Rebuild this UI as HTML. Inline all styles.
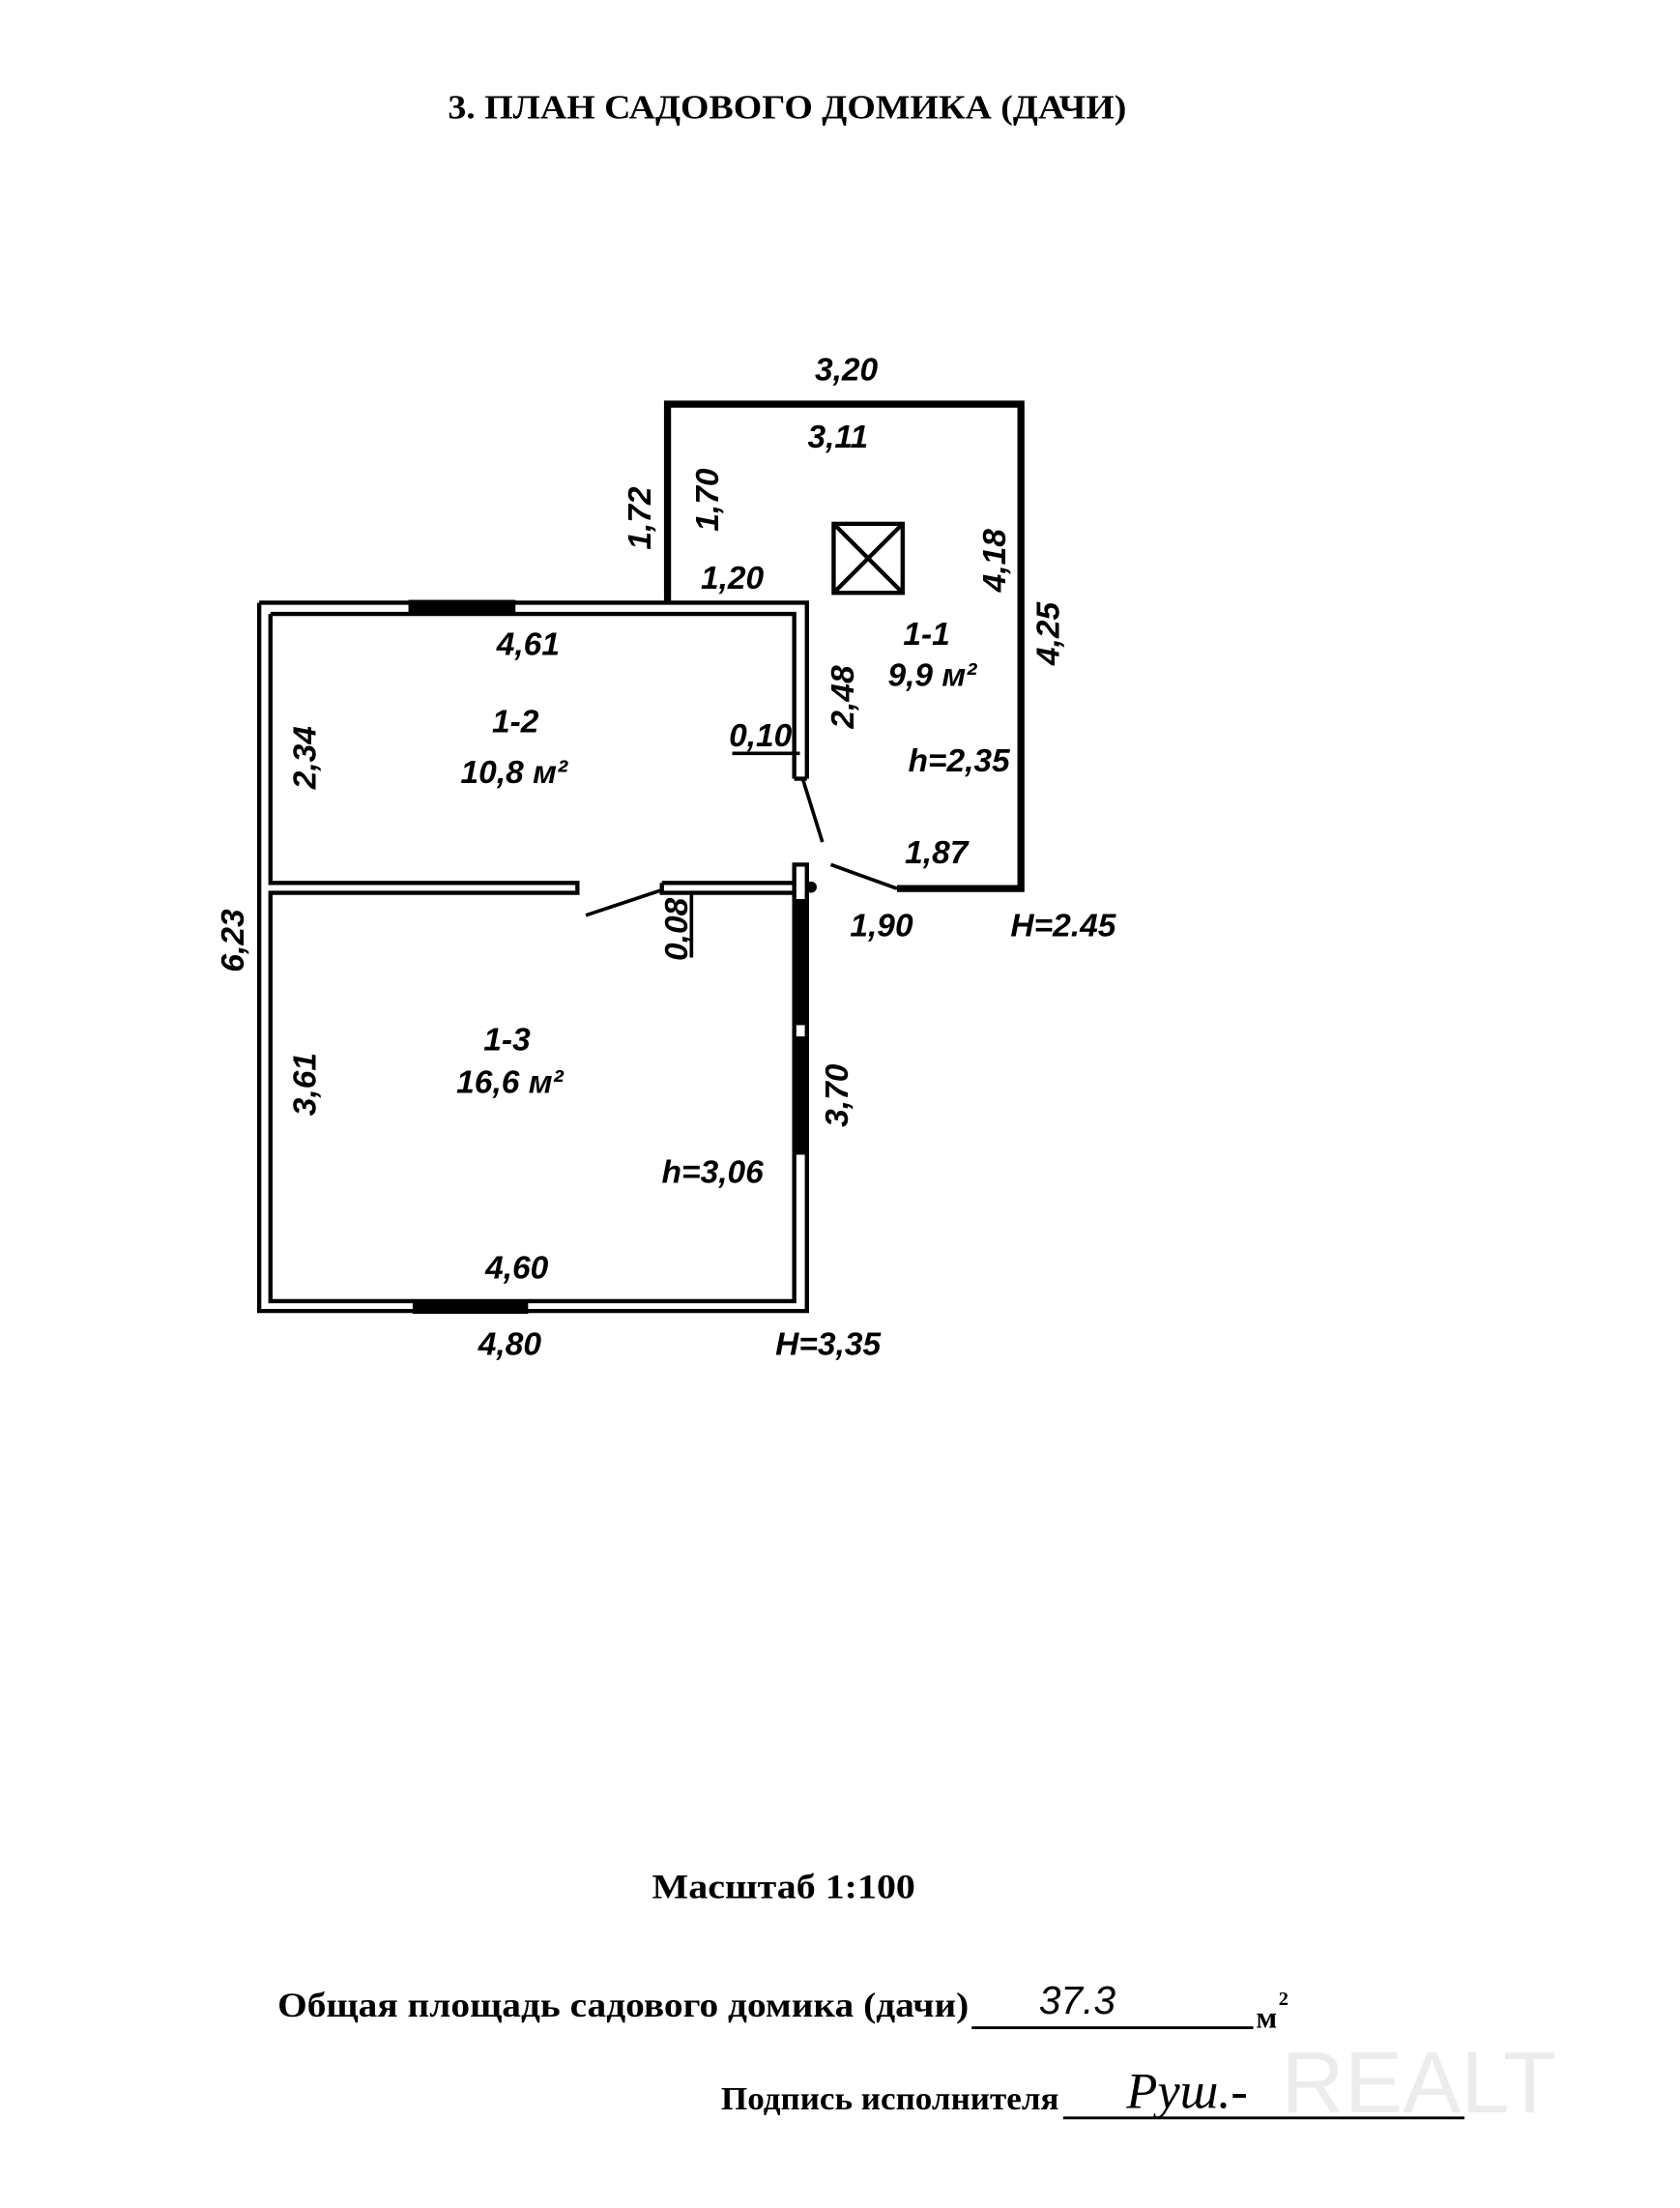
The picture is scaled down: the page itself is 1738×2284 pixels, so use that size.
<!DOCTYPE html>
<html><head><meta charset="utf-8"><style>
html,body{margin:0;padding:0;background:#fff}
svg{display:block}
.d{font-family:"Liberation Sans",sans-serif;font-style:italic;font-weight:bold;font-size:23px;fill:#000}
.s{font-family:"Liberation Serif","Noto Serif CJK SC",serif;font-weight:bold;fill:#000}
</style></head><body>
<svg width="1738" height="2284" viewBox="0 0 1193 1568" xmlns="http://www.w3.org/2000/svg">
<rect width="1193" height="1568" fill="#fff"/>
<text class="s" x="318" y="84" font-size="24" textLength="482" lengthAdjust="spacingAndGlyphs">3. ПЛАН САДОВОГО ДОМИКА (ДАЧИ)</text>

<g fill="none" stroke="#000" stroke-width="3">
<path d="M184,428 H573 V553 M184,428 V931 H573 V634"/>
<path d="M192,436 H564 V553 M192,436 V627 H410 V634 H192 V924 H564 V640"/>
<path d="M564,553 H573"/>
<path d="M470,627 H564 M476,634 H564 M470,627 V634 H476"/>
<path d="M564,614 H573 V640 H564 Z"/>
</g>
<rect x="290" y="426" width="76" height="10" fill="#000"/>
<rect x="293" y="923" width="82" height="10" fill="#000"/>
<rect x="563" y="640" width="10" height="88" fill="#000"/>
<rect x="563" y="736" width="10" height="84" fill="#000"/>
<circle cx="576" cy="630" r="4" fill="#000"/>
<g fill="none" stroke="#000" stroke-width="5">
<path d="M474,428 V287 H725 V631 H637"/>
</g>
<g stroke="#000" stroke-width="2.5">
<line x1="570" y1="553" x2="584" y2="598"/>
<line x1="590" y1="614" x2="637" y2="631"/>
<line x1="416" y1="650" x2="470" y2="632"/>
<line x1="520" y1="535" x2="568" y2="535"/>
<line x1="491" y1="633" x2="491" y2="680"/>
</g>
<g fill="none" stroke="#000" stroke-width="3">
<rect x="592" y="372" width="49" height="49"/>
<line x1="592" y1="372" x2="641" y2="421"/><line x1="641" y1="372" x2="592" y2="421"/>
</g>

<g class="d">
<text x="601" y="270" text-anchor="middle">3,20</text>
<text x="595" y="318" text-anchor="middle">3,11</text>
<text x="520" y="418" text-anchor="middle">1,20</text>
<text x="375" y="465" text-anchor="middle">4,61</text>
<text x="366" y="520" text-anchor="middle">1-2</text>
<text x="365" y="556" text-anchor="middle">10,8 м²</text>
<text x="540" y="530" text-anchor="middle">0,10</text>
<text x="658" y="458" text-anchor="middle">1-1</text>
<text x="662" y="487" text-anchor="middle">9,9 м²</text>
<text x="681" y="548" text-anchor="middle">h=2,35</text>
<text x="665" y="613" text-anchor="middle">1,87</text>
<text x="626" y="665" text-anchor="middle">1,90</text>
<text x="755" y="665" text-anchor="middle">H=2.45</text>
<text x="360" y="746" text-anchor="middle">1-3</text>
<text x="362" y="776" text-anchor="middle">16,6 м²</text>
<text x="506" y="840" text-anchor="middle">h=3,06</text>
<text x="367" y="908" text-anchor="middle">4,60</text>
<text x="362" y="962" text-anchor="middle">4,80</text>
<text x="588" y="962" text-anchor="middle">H=3,35</text>
<text transform="translate(462,368) rotate(-90)" text-anchor="middle">1,72</text>
<text transform="translate(510,355) rotate(-90)" text-anchor="middle">1,70</text>
<text transform="translate(714,398) rotate(-90)" text-anchor="middle">4,18</text>
<text transform="translate(752,450) rotate(-90)" text-anchor="middle">4,25</text>
<text transform="translate(606,495) rotate(-90)" text-anchor="middle">2,48</text>
<text transform="translate(224,538) rotate(-90)" text-anchor="middle">2,34</text>
<text transform="translate(173,668) rotate(-90)" text-anchor="middle">6,23</text>
<text transform="translate(488,660) rotate(-90)" text-anchor="middle">0,08</text>
<text transform="translate(224,770) rotate(-90)" text-anchor="middle">3,61</text>
<text transform="translate(602,778) rotate(-90)" text-anchor="middle">3,70</text>
</g>

<text class="s" x="463" y="1348" font-size="25" textLength="187" lengthAdjust="spacingAndGlyphs">Масштаб 1:100</text>
<text class="s" x="197" y="1432" font-size="25" textLength="491" lengthAdjust="spacingAndGlyphs">Общая площадь садового домика (дачи)</text>
<line x1="690" y1="1440" x2="890" y2="1440" stroke="#000" stroke-width="2"/>
<text x="765" y="1430" font-family="Liberation Sans,sans-serif" font-style="italic" font-size="28" text-anchor="middle">37.3</text>
<text class="s" x="892" y="1440" font-size="22">м</text><text class="s" x="908" y="1424" font-size="14">2</text>
<text class="s" x="512" y="1498" font-size="23" textLength="240" lengthAdjust="spacingAndGlyphs">Подпись исполнителя</text>
<line x1="755" y1="1504" x2="1040" y2="1504" stroke="#000" stroke-width="2"/>
<text x="800" y="1497" font-family="Liberation Serif,serif" font-style="italic" font-size="36">Руш.-</text>
<text x="910" y="1500" font-family="Liberation Sans,sans-serif" font-size="62" fill="#ececec">REALT</text>
</svg>
</body></html>
